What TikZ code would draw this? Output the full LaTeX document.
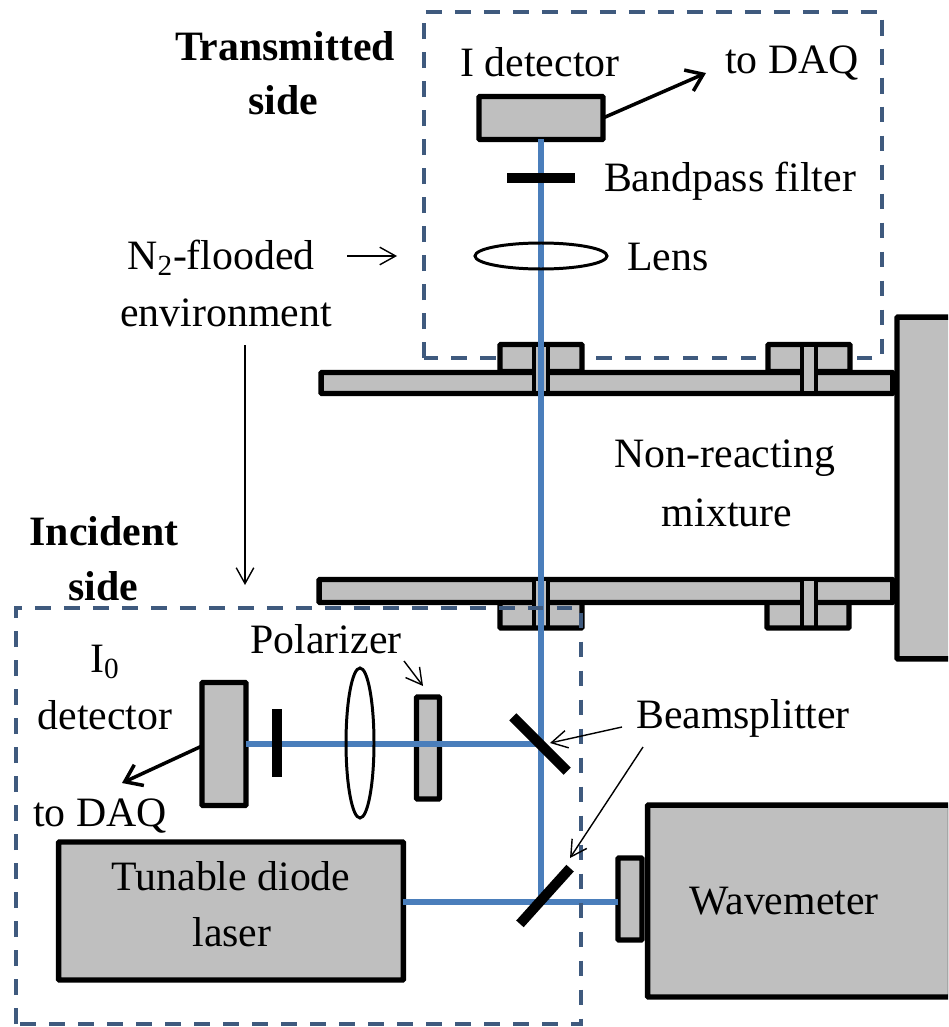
\documentclass[tikz,border=0pt]{standalone}
\usepackage{fontspec}
\setmainfont{Liberation Serif}
\usetikzlibrary{shapes.geometric, arrows.meta}

\definecolor{partgray}{HTML}{BFBFBF}
\definecolor{beamblue}{HTML}{4A7EBB}
\definecolor{zoneblue}{HTML}{3F5A7E}

\tikzset{
  part/.style={draw, fill=partgray, line width=3.1pt, rounded corners=0.5pt, inner sep=0pt, outer sep=0pt},
  bar/.style={fill=black, inner sep=0pt, outer sep=0pt},
  lens/.style={draw, ellipse, line width=1.7pt, inner sep=0pt, outer sep=0pt},
  beam/.style={beamblue, line width=3pt},
  zone/.style={zoneblue, line width=2.2pt, dash pattern=on 9pt off 7.5pt},
  label/.style={font=\fontsize{23.8}{28}\selectfont, inner sep=0pt},
  title/.style={font=\fontsize{23.8}{28}\selectfont\bfseries, inner sep=0pt},
  daqarrow/.style={-{Straight Barb[length=9pt, width=13pt]}, line width=2pt},
  pointer/.style={-{Straight Barb[length=9pt, width=10pt]}, line width=0.8pt}
}

\begin{document}
\begin{tikzpicture}[x=0.02cm, y=-0.02cm]

  \clip (0, 0) rectangle (948, 1027);

  % transmitted side
  \draw[zone] (424, 358) -- (424, 12) -- (882, 12) -- (882, 358) -- cycle;

  % cell walls and flanges
  \node[part, minimum width=1.64cm, minimum height=0.54cm] (flangeA) at (541, 358) {};
  \node[part, minimum width=1.64cm, minimum height=0.54cm] (flangeB) at (809, 358) {};
  \node[part, minimum width=1.64cm, minimum height=0.52cm] (flangeC) at (541, 615) {};
  \node[part, minimum width=1.64cm, minimum height=0.52cm] (flangeD) at (808, 615) {};
  \node[part, minimum width=11.44cm, minimum height=0.42cm] (wallTop) at (607, 383) {};
  \node[part, minimum width=11.48cm, minimum height=0.46cm] (wallBottom) at (606, 591) {};
  \node[part, minimum width=2cm, minimum height=6.84cm] (cellEnd) at (947, 488) {};

  % the windows through the walls
  \foreach \x/\ya/\yb in {541/344/394, 809/344/394, 541/578/628, 809/578/628} {
    \fill[partgray] (\x-6, \ya+3) rectangle (\x+6, \yb-3);
    \draw[line width=2.6pt] (\x-7, \ya) -- (\x-7, \yb);
    \draw[line width=2.6pt] (\x+7, \ya) -- (\x+7, \yb);
  }

  % optics
  \node[part, minimum width=2.48cm, minimum height=0.86cm] (detI) at (541, 118) {};
  \node[part, minimum width=0.88cm, minimum height=2.46cm] (detZero) at (224, 744) {};
  \node[part, minimum width=0.46cm, minimum height=2.04cm] (polarizer) at (428, 748) {};
  \node[part, minimum width=6.9cm, minimum height=2.76cm] (laser) at (231, 911) {};
  \node[part, minimum width=6.06cm, minimum height=3.84cm] (wavemeter) at (799, 901) {};
  \node[part, minimum width=0.48cm, minimum height=1.64cm] (coupler) at (630, 899) {};

  \coordinate (splitA) at (541, 744);
  \coordinate (splitB) at (541, 902);

  \draw[beam] (detI.south) -- (splitB);
  \draw[beam] (splitA) -- (detZero.east |- splitA);
  \draw[beam] (laser.east |- splitB) -- (coupler.west |- splitB);

  \node[bar, minimum width=1.36cm, minimum height=0.2cm] (filterI) at (541, 178) {};
  \node[bar, minimum width=0.2cm, minimum height=1.36cm] (filterZero) at (277, 743) {};
  \node[lens, minimum width=2.64cm, minimum height=0.52cm] (lensI) at (541, 256) {};
  \node[lens, minimum width=0.56cm, minimum height=3cm] (lensZero) at (360, 743) {};
  \node[bar, rotate=-45, minimum width=1.54cm, minimum height=0.2cm] (mirrorA) at (540, 744) {};
  \node[bar, rotate=48, minimum width=1.5cm, minimum height=0.2cm] (mirrorB) at (545, 896) {};

  % incident side
  \draw[zone] (16, 1024) -- (16, 608) -- (581, 608) -- (581, 1024) -- cycle;

  % labels
  \node[title] (titleA) at (285, 46) {Transmitted};
  \node[title] (titleB) at (283, 100) {side};
  \node[title] (titleC) at (104, 531) {Incident};
  \node[title] (titleD) at (103, 586) {side};

  \node[label] (nameDetI) at (540, 62) {I detector};
  \node[label] (daqI) at (792, 63) {to DAQ};
  \node[label] (nameFilter) at (730, 181) {Bandpass filter};
  \node[label] (nameLens) at (668, 257) {Lens};
  \node[label] (flood) at (221, 258) {N\textsubscript{2}-flooded};
  \node[label] (floodB) at (226, 313) {environment};
  \node[label] (gasA) at (725, 458) {Non-reacting};
  \node[label] (gasB) at (727, 513) {mixture};
  \node[label] (nameZero) at (105, 662) {I\textsubscript{0}};
  \node[label] (nameZeroB) at (105, 715) {detector};
  \node[label] (daqZero) at (100, 816) {to DAQ};
  \node[label] (namePol) at (326, 639) {Polarizer};
  \node[label] (nameSplit) at (743, 718) {Beamsplitter};
  \node[label] (nameLaser) at (231, 876) {Tunable diode};
  \node[label] (nameLaserB) at (232, 932) {laser};
  \node[label] (nameWave) at (784, 901) {Wavemeter};

  % arrows
  \coordinate (daqEndI) at (706, 73);
  \coordinate (daqEndZero) at (122, 783);
  \coordinate (daqStartZero) at (202, 746);
  \coordinate (floodEnd) at (397, 256);
  \coordinate (floodStart) at (347, 256);
  \coordinate (floodDown) at (245, 345);
  \coordinate (floodEndB) at (245, 585);
  \coordinate (polStart) at (404, 661);
  \coordinate (polEnd) at (423, 686);
  \coordinate (splitStart) at (622, 727);
  \coordinate (splitStartB) at (643, 747);
  \coordinate (splitEndA) at (550, 743);
  \coordinate (splitEndB) at (570, 858);

  \draw[daqarrow] (detI.east) -- (daqEndI);
  \draw[daqarrow] (daqStartZero) -- (daqEndZero);
  \draw[pointer] (floodStart) -- (floodEnd);
  \draw[pointer] (floodDown) -- (floodEndB);
  \draw[pointer] (polStart) -- (polEnd);
  \draw[pointer] (splitStart) -- (splitEndA);
  \draw[pointer] (splitStartB) -- (splitEndB);

\end{tikzpicture}
\end{document}
